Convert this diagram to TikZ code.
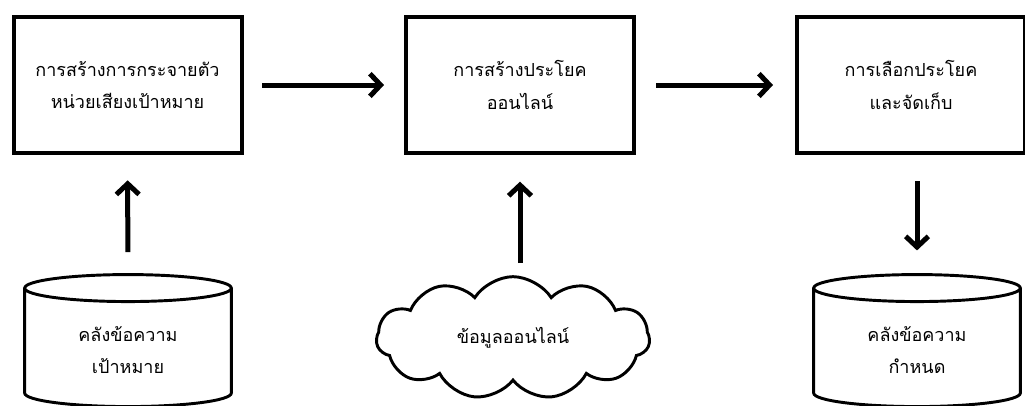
\documentclass[tikz,border=0pt]{standalone}
\usepackage{fontspec}
\newfontfamily\thaifont[Script=Thai]{Loma}
\usetikzlibrary{arrows.meta,shapes.geometric,shapes.symbols}

\begin{document}
\begin{tikzpicture}[x=0.75pt,y=-0.75pt,
    every node/.style={font=\thaifont\fontsize{13.5}{24.5}\selectfont,align=center},
    proc/.style={draw,line width=3pt,minimum width=171pt,minimum height=102pt},
    store/.style={cylinder,draw,line width=2.2pt,shape border rotate=90,aspect=0.25,
      minimum width=155pt,minimum height=99pt},
    flow/.style={line width=3.75pt,-{Straight Barb[length=8pt,width=17pt]}}]
  \useasboundingbox (0,0) rectangle (1025,405);
  \node[proc] (build) at (127.5,85) {การสร้างการกระจายตัว\\หน่วยเสียงเป้าหมาย};
  \node[proc] (gen) at (520,85) {การสร้างประโยค\\ออนไลน์};
  \node[proc] (pick) at (911,85) {การเลือกประโยค\\และจัดเก็บ};
  \node[store] (corpus) at (128,350) {คลังข้อความ\\เป้าหมาย};
  \node[cloud,draw,line width=2.2pt,cloud puffs=11,cloud puff arc=115,aspect=2.3,
    minimum width=205pt,minimum height=92pt] (web) at (513,338) {ข้อมูลออนไลน์};
  \node[store] (fixed) at (917,350) {คลังข้อความ\\กำหนด};
  \draw[flow,shorten <=14pt,shorten >=15pt] (build) -- (gen);
  \draw[flow,shorten <=15pt,shorten >=16.5pt] (gen) -- (pick);
  \draw[flow,shorten <=15.75pt,shorten >=19pt] (corpus) -- (build);
  \draw[flow,shorten <=9pt,shorten >=20pt] (gen.south |- web.north) -- (gen.south);
  \draw[flow,shorten <=19.5pt,shorten >=17pt] (pick.south -| fixed.north) -- (fixed.north);
\end{tikzpicture}
\end{document}
